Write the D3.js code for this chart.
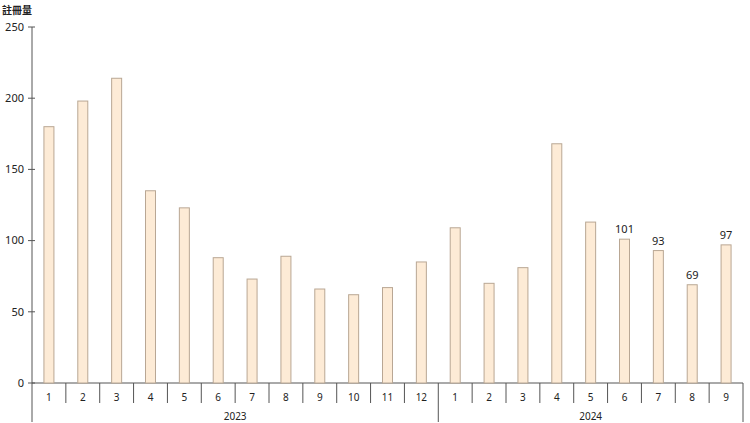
<!DOCTYPE html>
<html><head><meta charset="utf-8">
<script src="https://cdn.jsdelivr.net/npm/d3@7"></script>
<style>body{margin:0;background:#fff}svg{display:block}text{font-family:"Noto Sans","Noto Sans CJK TC",sans-serif;fill:#222}</style>
</head><body><svg id="c" width="750" height="423"></svg>
<script>
const months = ["1","2","3","4","5","6","7","8","9","10","11","12","1","2","3","4","5","6","7","8","9"];
const years = ["2023","2024"];
const yearCounts = [12, 9];
const values = [180,198,214,135,123,88,73,89,66,62,67,85,109,70,81,168,113,101,93,69,97];
const labelled = [false,false,false,false,false,false,false,false,false,false,false,false,false,false,false,false,false,true,true,true,true];
const yTicks = [0,50,100,150,200,250];
const yTitle = "註冊量";

(function(){
const svg = d3.select("#c");
const mLeft = 32, mRight = 743, mTop = 27, mBottom = 383;
const idx = values.map((d,i)=>i);
const x = d3.scaleBand().domain(idx).range([mLeft,mRight]).paddingInner(0).paddingOuter(0);
const y = d3.scaleLinear().domain([0,250]).range([mBottom,mTop]);
const axisCol = "#555";

svg.append("line").attr("x1",mLeft).attr("x2",mLeft).attr("y1",mTop).attr("y2",422).attr("stroke",axisCol).attr("stroke-width",1);
const yg = svg.append("g");
yTicks.forEach(t=>{
  yg.append("line").attr("x1",mLeft-4).attr("x2",mLeft+3).attr("y1",y(t)).attr("y2",y(t)).attr("stroke",axisCol);
  yg.append("text").attr("x",mLeft-8).attr("y",y(t)).attr("dy","0.35em").attr("text-anchor","end").attr("font-size",11).text(t);
});
svg.append("text").attr("x",2).attr("y",14).attr("font-size",10).attr("font-weight","bold").text(yTitle);

svg.append("line").attr("x1",mLeft).attr("x2",mRight).attr("y1",mBottom).attr("y2",mBottom).attr("stroke",axisCol);

const bw = 10;
svg.append("g").selectAll("rect").data(values).join("rect")
  .attr("x",(d,i)=>x(i)+x.bandwidth()/2-bw/2)
  .attr("y",d=>y(d))
  .attr("width",bw)
  .attr("height",d=>y(0)-y(d))
  .attr("fill","#fdebd6")
  .attr("stroke","#b9a794")
  .attr("stroke-width",1);

svg.append("g").selectAll("text").data(values.map((v,i)=>({v,i})).filter(d=>labelled[d.i])).join("text")
  .attr("x",d=>x(d.i)+x.bandwidth()/2)
  .attr("y",d=>y(d.v)-6)
  .attr("text-anchor","middle").attr("font-size",11).text(d=>d.v);

svg.append("g").selectAll("text").data(months).join("text")
  .attr("x",(d,i)=>x(i)+x.bandwidth()/2)
  .attr("y",397).attr("dy","0.35em")
  .attr("text-anchor","middle").attr("font-size",10).text(d=>d);

const yearStarts = [];
let acc = 0;
yearCounts.forEach(c=>{yearStarts.push(acc); acc+=c;});
const boundaries = new Set(yearStarts.concat([acc]));
for(let i=1;i<=months.length;i++){
  const xp = i<months.length ? x(i) : mRight;
  const long = boundaries.has(i);
  svg.append("line").attr("x1",xp).attr("x2",xp).attr("y1",mBottom).attr("y2",long?422:403).attr("stroke",axisCol);
}
years.forEach((yr,k)=>{
  const s = yearStarts[k], e = s+yearCounts[k];
  const x0 = x(s), x1 = e<months.length ? x(e) : mRight;
  svg.append("text").attr("x",(x0+x1)/2).attr("y",416).attr("dy","0.35em").attr("text-anchor","middle").attr("font-size",10).text(yr);
});
})();
</script></body></html>
